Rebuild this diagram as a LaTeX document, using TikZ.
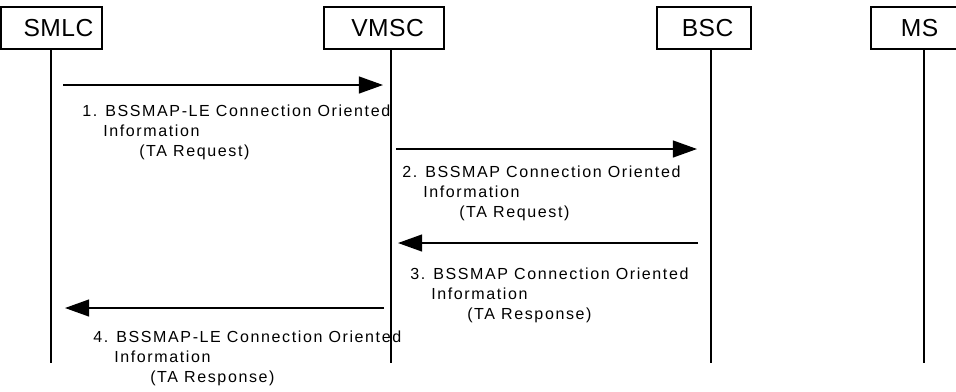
\documentclass[tikz,border=0pt]{standalone}
\usepackage{fontspec}
\setmainfont{Liberation Sans}
\newfontfamily\mscLblFont[LetterSpace=10]{Liberation Sans}
\newfontfamily\mscEntFont[LetterSpace=2]{Liberation Sans}
\usetikzlibrary{arrows.meta,positioning}
\tikzset{
  %% Entity boxes
  mscEnt/.style={draw, line width=0.8pt, minimum height=1.05cm, inner sep=0pt,
    font=\mscEntFont\fontsize{17.5}{20}\selectfont},
  %% Lifelines and messages
  mscLife/.style={line width=1.1pt},
  mscMsg/.style={-{Triangle[length=0.6cm, width=0.42cm]}, line width=1.2pt},
  %% Message text
  mscLbl/.style={anchor=west, inner sep=0pt, align=left,
    font=\mscLblFont\fontsize{11.4}{14.2}\selectfont},
}

\begin{document}
\begin{tikzpicture}[x=0.025cm, y=-0.025cm]
\clip (0,0) rectangle (956,391);
%% Entities
\node[mscEnt, minimum width=2.525cm] (eSMLC) at ( 51.5,28) {\hspace*{0.35cm}SMLC};
\node[mscEnt, minimum width=3.0cm]   (eVMSC) at (384.0,28) {\hspace*{0.18cm}VMSC};
\node[mscEnt, minimum width=2.35cm]  (eBSC)  at (704.0,28) {\hspace*{0.18cm}BSC};
\node[mscEnt, minimum width=2.425cm] (eMS)   at (919.5,28) {MS};

\coordinate (lSMLC) at ( 51,363);
\coordinate (lVMSC) at (391,363);
\coordinate (lBSC)  at (711,363);
\coordinate (lMS)   at (924,363);
\foreach \e in {SMLC, VMSC, BSC, MS}
  \draw[mscLife] (e\e.south -| l\e) -- (l\e);

%% Messages
\coordinate (m1s) at ( 63, 85); \coordinate (m1e) at (383, 85);
\coordinate (m2s) at (396,149); \coordinate (m2e) at (697,149);
\coordinate (m3s) at (698,243); \coordinate (m3e) at (398,243);
\coordinate (m4s) at (384,308); \coordinate (m4e) at ( 65,308);
\draw[mscMsg] (m1s) -- (m1e);
\draw[mscMsg] (m2s) -- (m2e);
\draw[mscMsg] (m3s) -- (m3e);
\draw[mscMsg] (m4s) -- (m4e);

\node[mscLbl] (t1) at ( 82,132) {1. BSSMAP-LE Connection Oriented\\\hspace*{0.525cm}Information\\\hspace*{1.425cm}(TA Request)};
\node[mscLbl] (t2) at (402,193) {2. BSSMAP Connection Oriented\\\hspace*{0.525cm}Information\\\hspace*{1.425cm}(TA Request)};
\node[mscLbl] (t3) at (410,295) {3. BSSMAP Connection Oriented\\\hspace*{0.525cm}Information\\\hspace*{1.425cm}(TA Response)};
\node[mscLbl] (t4) at ( 93,358) {4. BSSMAP-LE Connection Oriented\\\hspace*{0.525cm}Information\\\hspace*{1.425cm}(TA Response)};

\end{tikzpicture}
\end{document}
